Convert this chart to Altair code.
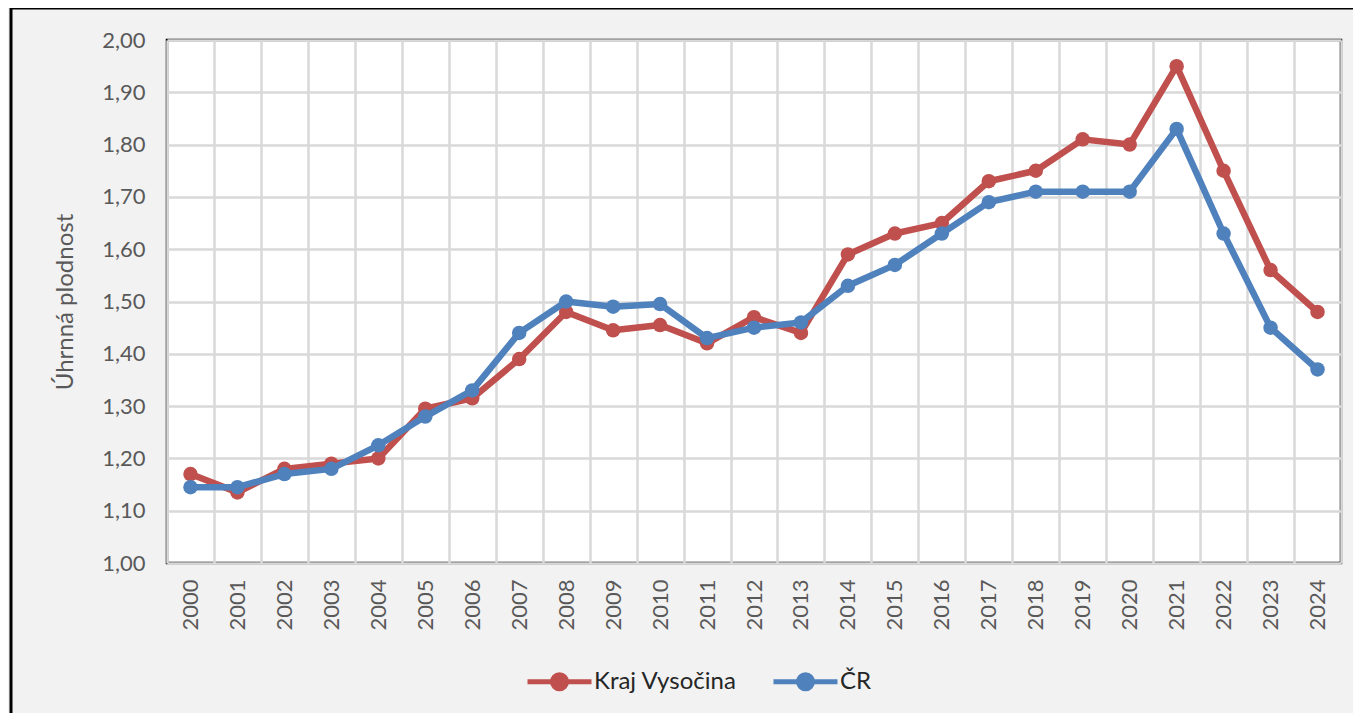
import altair as alt
import pandas as pd

years = [2000, 2001, 2002, 2003, 2004, 2005, 2006, 2007, 2008, 2009, 2010, 2011, 2012,
         2013, 2014, 2015, 2016, 2017, 2018, 2019, 2020, 2021, 2022, 2023, 2024]
kraj = [1.17, 1.135, 1.18, 1.19, 1.20, 1.295, 1.315, 1.39, 1.48, 1.445, 1.455, 1.42, 1.47,
        1.44, 1.59, 1.63, 1.65, 1.73, 1.75, 1.81, 1.80, 1.95, 1.75, 1.56, 1.48]
cr = [1.145, 1.145, 1.17, 1.18, 1.225, 1.28, 1.33, 1.44, 1.50, 1.49, 1.495, 1.43, 1.45,
      1.46, 1.53, 1.57, 1.63, 1.69, 1.71, 1.71, 1.71, 1.83, 1.63, 1.45, 1.37]
series = ["Kraj Vysočina", "ČR"]
colors = ["#c0504d", "#4f81bd"]
y_ticks = [1.0, 1.1, 1.2, 1.3, 1.4, 1.5, 1.6, 1.7, 1.8, 1.9, 2.0]

rows = []
for s, vals in zip(series, [kraj, cr]):
    for yr, v in zip(years, vals):
        rows.append({"year": str(yr), "value": v, "series": s})
df = pd.DataFrame(rows)

FONT = "Lato"

x_enc = alt.X(
    "year:O",
    sort=[str(y) for y in years],
    scale=alt.Scale(type="band", paddingInner=0, paddingOuter=0),
    axis=alt.Axis(
        title=None, tickBand="extent", ticks=False, tickSize=0, domain=False,
        labelAngle=-90, labelPadding=16, labelFontSize=22, labelColor="#595959",
        labelFont=FONT, grid=True, gridColor="#d9d9d9", gridWidth=2.5,
    ),
)
y_enc = alt.Y(
    "value:Q",
    scale=alt.Scale(domain=[1.0, 2.0], nice=False, zero=False),
    axis=alt.Axis(
        title="Úhrnná plodnost", values=y_ticks, ticks=False, tickSize=0, domain=False,
        labelExpr="replace(format(datum.value, '.2f'), '.', ',')",
        labelPadding=22, labelFontSize=22, labelColor="#595959", labelFont=FONT,
        titleFont=FONT, titleFontSize=24, titleFontWeight="normal", titleColor="#595959",
        titlePadding=24, grid=True, gridColor="#d9d9d9", gridWidth=2.5,
    ),
)

sym = "M-1,0L1,0M-0.22,0A0.22,0.22,0,1,0,0.22,0A0.22,0.22,0,1,0,-0.22,0Z"
legend = alt.Legend(
    title=None, orient="none", legendX=358, legendY=607, direction="horizontal",
    symbolType=sym, symbolSize=4096, symbolStrokeWidth=5, labelFontSize=24,
    labelFont=FONT, labelColor="#262626", labelOffset=0, columnPadding=26,
    symbolOpacity=1,
)
cscale = alt.Scale(domain=series, range=colors)

layers = []
for s in series:
    base = alt.Chart(df).transform_filter(alt.datum.series == s).encode(x=x_enc, y=y_enc)
    line = base.mark_line(strokeWidth=6.5, strokeJoin="round", strokeCap="round").encode(
        stroke=alt.Stroke("series:N", scale=cscale, legend=legend)
    )
    pts = base.mark_circle(size=210, opacity=1).encode(
        fill=alt.Fill("series:N", scale=cscale, legend=legend)
    )
    layers += [line, pts]

frame = alt.Chart(pd.DataFrame({"a": [0]})).mark_rect(
    fill="transparent", stroke="black", strokeWidth=3
).encode(x=alt.value(-156), x2=alt.value(1400), y=alt.value(-32), y2=alt.value(800))

chart = alt.layer(frame, *layers).properties(
    width=1174, height=523,
    padding={"left": 159, "top": 32, "right": 12, "bottom": 150},
    autosize=alt.AutoSizeParams(type="none"),
).configure(background="#f2f2f2").configure_view(
    fill="white", stroke="black", strokeWidth=2.5
)

chart.save("out.html", embed_options={"renderer": "svg", "actions": False})
